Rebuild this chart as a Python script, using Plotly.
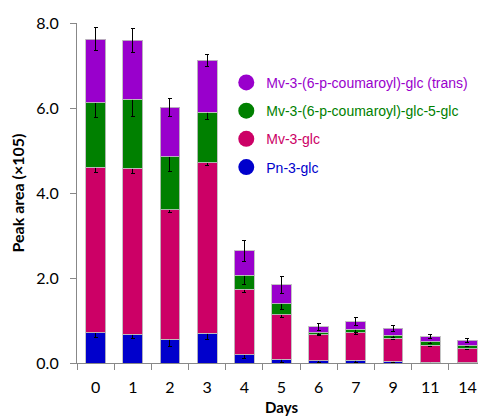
import plotly.graph_objects as go

days = ["0", "1", "2", "3", "4", "5", "6", "7", "9", "11", "14"]

pn3glc = [0.71, 0.68, 0.56, 0.70, 0.19, 0.09, 0.05, 0.07, 0.04, 0.02, 0.01]
pn3glc_err = [0.10, 0.11, 0.17, 0.15, 0.08, 0.08, 0.04, 0.05, 0.02, 0.02, 0.01]

mv3glc = [3.90, 3.90, 3.05, 4.01, 1.54, 1.04, 0.62, 0.64, 0.54, 0.40, 0.33]
mv3glc_err = [0.12, 0.11, 0.07, 0.07, 0.06, 0.06, 0.03, 0.03, 0.03, 0.03, 0.03]

mv_coum_5glc = [1.51, 1.63, 1.24, 1.19, 0.34, 0.27, 0.04, 0.08, 0.07, 0.08, 0.07]
mv_coum_5glc_err = [0.34, 0.42, 0.34, 0.18, 0.23, 0.15, 0.05, 0.07, 0.04, 0.04, 0.03]

mv_coum_trans = [1.50, 1.38, 1.17, 1.22, 0.57, 0.44, 0.14, 0.18, 0.17, 0.12, 0.12]
mv_coum_trans_err = [0.27, 0.28, 0.21, 0.15, 0.24, 0.20, 0.08, 0.09, 0.07, 0.04, 0.05]

series = [
    ("Pn-3-glc", pn3glc, pn3glc_err, "#0000CC"),
    ("Mv-3-glc", mv3glc, mv3glc_err, "#CC0066"),
    ("Mv-3-(6-p-coumaroyl)-glc-5-glc", mv_coum_5glc, mv_coum_5glc_err, "#008000"),
    ("Mv-3-(6-p-coumaroyl)-glc (trans)", mv_coum_trans, mv_coum_trans_err, "#9900CC"),
]

fig = go.Figure()
for name, vals, errs, col in series:
    fig.add_trace(go.Bar(
        x=days, y=vals, name=name, marker_color=col,
        marker_line=dict(color="rgba(190,190,190,0.9)", width=1),
        error_y=dict(type="data", array=errs, color="black", thickness=1, width=2),
        showlegend=False,
    ))

# legend entries with circular markers (top: trans ... bottom: Pn)
for i, (name, vals, errs, col) in enumerate(reversed(series)):
    fig.add_trace(go.Scatter(
        x=[None], y=[None], mode="markers",
        name=f"<span style='color:{col}'>{name}</span>",
        marker=dict(color=col, size=17, symbol="circle"),
        legendgroup=f"g{i}", showlegend=True,
    ))

fig.update_layout(
    width=478, height=408,
    margin=dict(l=69, r=0, t=15, b=53),
    barmode="stack", bargap=0.465,
    plot_bgcolor="white", paper_bgcolor="white",
    font=dict(family="Lato, Open Sans, sans-serif", size=15, color="black"),
    legend=dict(
        x=0.365, y=0.871, xanchor="left", yanchor="top",
        font=dict(family="Liberation Sans, Arial, sans-serif", size=14),
        traceorder="grouped", tracegroupgap=7, itemsizing="trace",
        bgcolor="rgba(0,0,0,0)",
    ),
)
fig.update_xaxes(
    type="category", showline=True, linecolor="#888888", linewidth=1.2,
    ticks="outside", tickson="boundaries", ticklen=6, tickcolor="#888888",
    showgrid=False, tickfont=dict(size=16), automargin=False, ticklabelstandoff=10,
    title=dict(text="<b>Days</b>", font=dict(size=15), standoff=8),
)
fig.update_yaxes(
    range=[0, 8], tickvals=[0, 2, 4, 6, 8], ticktext=["0.0", "2.0", "4.0", "6.0", "8.0"],
    showline=True, linecolor="#888888", linewidth=1.2, ticks="outside", ticklen=6,
    tickcolor="#888888", showgrid=False, zeroline=False, tickfont=dict(size=16),
    automargin=False, ticklabelstandoff=8,
    title=dict(text="<b>Peak area (×105)</b>", font=dict(size=16), standoff=12),
)

fig.write_html("out.html")
